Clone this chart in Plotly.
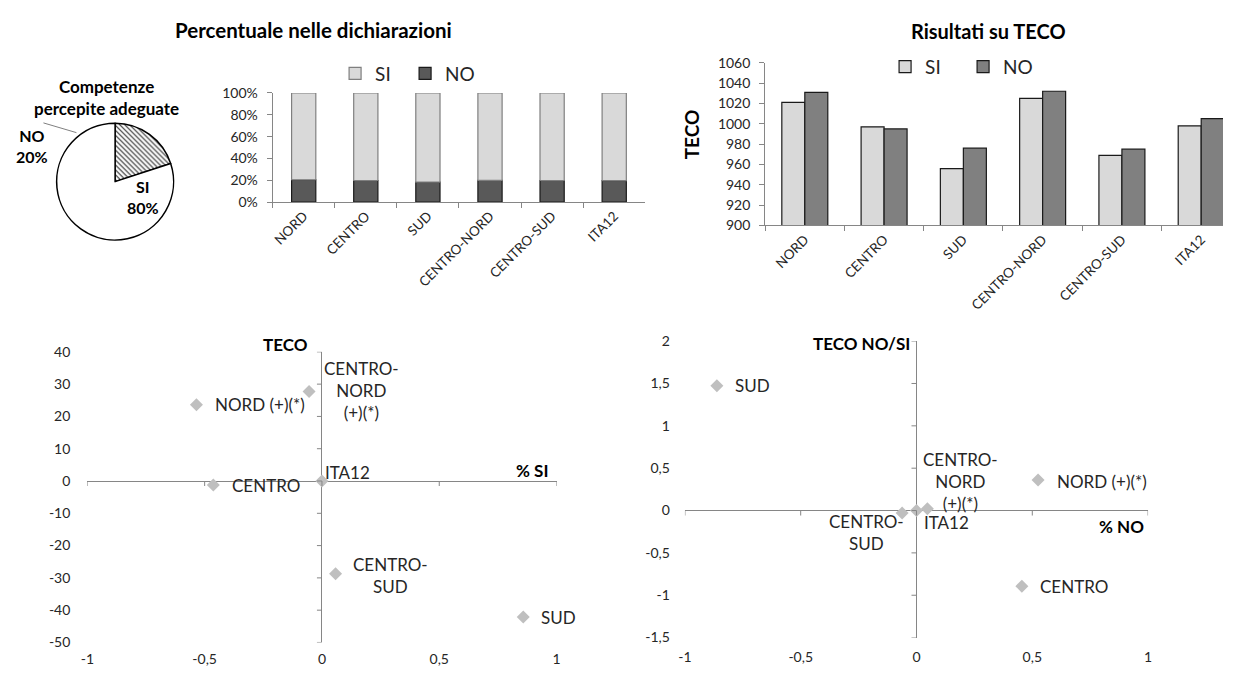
import plotly.graph_objects as go

# page is 1235x676; the browser's default 8px body margin offsets the figure
PAGE_W, PAGE_H = 1235, 676
OFF = 8
W, H = PAGE_W - 2 * OFF, PAGE_H - 2 * OFF

# ---------------- data ----------------
regions = ["NORD", "CENTRO", "SUD", "CENTRO-NORD", "CENTRO-SUD", "ITA12"]

pie_labels = ["NO", "SI"]
pie_values = [20, 80]

decl_no = [20.5, 19.8, 18.4, 19.9, 19.8, 19.7]          # % NO in the declarations
decl_si = [round(100 - v, 1) for v in decl_no]          # % SI (complement)

teco_si = [1021, 997, 956, 1025, 969, 998]
teco_no = [1031, 995, 976, 1032, 975, 1005]

sc1_names = ["NORD", "CENTRO-NORD", "CENTRO", "ITA12", "CENTRO-SUD", "SUD"]
sc1_labels = ["NORD (+)(*)", "CENTRO-<br>NORD<br>(+)(*)", "CENTRO", "ITA12", "CENTRO-<br>SUD", "SUD"]
sc1_x = [-0.535, -0.055, -0.463, 0.0, 0.058, 0.858]
sc1_y = [23.6, 27.7, -1.2, 0.0, -28.7, -42.1]

sc2_names = ["SUD", "NORD", "CENTRO", "CENTRO-SUD", "ITA12", "CENTRO-NORD"]
sc2_labels = ["SUD", "NORD (+)(*)", "CENTRO", "CENTRO-<br>SUD", "ITA12", "CENTRO-<br>NORD<br>(+)(*)"]
sc2_x = [-0.862, 0.525, 0.455, -0.062, 0.0, 0.047]
sc2_y = [1.472, 0.36, -0.893, -0.03, 0.0, 0.02]

sc1_xticks = [-1, -0.5, 0, 0.5, 1]
sc1_yticks = [40, 30, 20, 10, 0, -10, -20, -30, -40, -50]
sc2_xticks = [-1, -0.5, 0, 0.5, 1]
sc2_yticks = [2, 1.5, 1, 0.5, 0, -0.5, -1, -1.5]

# ---------------- styling helpers ----------------
FONT = "Lato, 'Open Sans', sans-serif"
TXT = "#262626"
AX = "#868686"


def px(x):
    return (x - OFF) / W


def py(y):
    return 1 - (y - OFF) / H


def dx(a, b):
    return [max(0.0, px(a)), min(1.0, px(b))]


def dy(top, bottom):
    return [max(0.0, py(bottom)), min(1.0, py(top))]


def it_num(v):
    """Italian-style tick text: comma decimals, plain hyphen minus."""
    s = f"{v:g}"
    return s.replace(".", ",")


fig = go.Figure()

# ---------------- pie ----------------
fig.add_trace(go.Pie(
    labels=pie_labels, values=pie_values, sort=False, direction="counterclockwise",
    rotation=0, textinfo="none", hoverinfo="label+percent", showlegend=False,
    domain=dict(x=dx(49, 169), y=dy(117, 237)),
    marker=dict(colors=["white", "white"],
                line=dict(color="black", width=1.5),
                pattern=dict(shape=["\\", ""], fgcolor="#222222", bgcolor="white",
                             size=3.5, solidity=0.3)),
))

# ---------------- stacked 100% bar ----------------
bw1 = 0.39
fig.add_trace(go.Bar(
    x=regions, y=decl_no, name="NO", xaxis="x", yaxis="y", legend="legend",
    width=bw1, offset=-bw1 / 2, legendrank=2,
    marker=dict(color="#595959", line=dict(color="#1a1a1a", width=1.2)),
))
fig.add_trace(go.Bar(
    x=regions, y=decl_si, base=decl_no, name="SI", xaxis="x", yaxis="y", legend="legend",
    width=bw1, offset=-bw1 / 2, legendrank=1,
    marker=dict(color="#d9d9d9", line=dict(color="#7f7f7f", width=1.2)),
))

# ---------------- TECO grouped bar ----------------
bw2 = 0.29
fig.add_trace(go.Bar(
    x=regions, y=[v - 900 for v in teco_si], base=900, name="SI", xaxis="x2", yaxis="y2",
    legend="legend2", width=bw2, offset=-bw2, legendrank=1,
    customdata=teco_si, hovertemplate="%{x}: %{customdata}<extra>SI</extra>",
    marker=dict(color="#d9d9d9", line=dict(color="#1a1a1a", width=1.2)),
))
fig.add_trace(go.Bar(
    x=regions, y=[v - 900 for v in teco_no], base=900, name="NO", xaxis="x2", yaxis="y2",
    legend="legend2", width=bw2, offset=0, legendrank=2,
    customdata=teco_no, hovertemplate="%{x}: %{customdata}<extra>NO</extra>",
    marker=dict(color="#808080", line=dict(color="#1a1a1a", width=1.2)),
))

# ---------------- scatter plots ----------------
fig.add_trace(go.Scatter(
    x=sc1_x, y=sc1_y, mode="markers", xaxis="x3", yaxis="y3", showlegend=False,
    text=sc1_names, hoverinfo="text",
    marker=dict(symbol="diamond", size=10, color="#bfbfbf"),
))
fig.add_trace(go.Scatter(
    x=sc2_x, y=sc2_y, mode="markers", xaxis="x4", yaxis="y4", showlegend=False,
    text=sc2_names, hoverinfo="text",
    marker=dict(symbol="diamond", size=10, color="#bfbfbf"),
))

tickfont = dict(family=FONT, size=14, color=TXT)

bar_x_common = dict(type="category", categoryorder="array", categoryarray=regions,
                    tickson="boundaries", ticks="outside", ticklen=5, tickcolor=AX,
                    showline=True, linecolor=AX, linewidth=1, tickangle=-45,
                    tickfont=dict(family=FONT, size=13.5, color=TXT),
                    showgrid=False, zeroline=False, fixedrange=True)

scat_common = dict(showgrid=False, showline=False, zeroline=True, zerolinecolor=AX,
                   zerolinewidth=1, tickfont=tickfont, tickmode="array")

fig.update_layout(
    width=W, height=H, margin=dict(l=0, r=0, t=0, b=0),
    paper_bgcolor="white", plot_bgcolor="white",
    separators=", ", barmode="overlay",
    font=dict(family=FONT, color=TXT),
    xaxis=dict(domain=dx(268, 644), range=[-0.5, 5.5], anchor="y", **bar_x_common),
    yaxis=dict(domain=dy(86, 198), range=[0, 100], dtick=20, ticksuffix="%",
               ticks="outside", ticklen=5, tickcolor=AX, showline=True, linecolor=AX,
               showgrid=False, zeroline=False, tickfont=tickfont, anchor="x",
               ticklabelstandoff=6),
    # TECO chart: axis runs slightly past the right page edge (category range trimmed)
    xaxis2=dict(domain=dx(765, 1227), range=[-0.5, 5.275], anchor="y2", **bar_x_common),
    yaxis2=dict(domain=dy(55, 222), range=[900, 1060], dtick=20,
                ticks="outside", ticklen=5, tickcolor=AX, showline=True, linecolor=AX,
                showgrid=False, zeroline=False, tickfont=tickfont, anchor="x2",
                ticklabelstandoff=6),
    xaxis3=dict(domain=dx(81, 554.5), range=[-1, 1], anchor="y3",
                tickvals=sc1_xticks, ticktext=[it_num(v) for v in sc1_xticks],
                ticklabelstandoff=7, **scat_common),
    yaxis3=dict(domain=dy(351.7, 650), range=[-50, 40], anchor="x3",
                tickvals=sc1_yticks, ticktext=[it_num(v) for v in sc1_yticks],
                ticklabelstandoff=16, **scat_common),
    xaxis4=dict(domain=dx(684, 1151.4), range=[-1, 1], anchor="y4",
                tickvals=sc2_xticks, ticktext=[it_num(v) for v in sc2_xticks],
                ticklabelstandoff=9, **scat_common),
    yaxis4=dict(domain=dy(340.7, 645), range=[-1.5, 2], anchor="x4",
                tickvals=sc2_yticks, ticktext=[it_num(v) for v in sc2_yticks],
                ticklabelstandoff=14, **scat_common),
    legend=dict(orientation="h", x=px(331), y=py(66), xanchor="left", yanchor="middle",
                font=dict(family=FONT, size=19, color=TXT), bgcolor="rgba(0,0,0,0)",
                entrywidth=25, entrywidthmode="pixels", traceorder="normal"),
    legend2=dict(orientation="h", x=px(886), y=py(59), xanchor="left", yanchor="middle",
                 font=dict(family=FONT, size=19, color=TXT), bgcolor="rgba(0,0,0,0)",
                 entrywidth=33, entrywidthmode="pixels", traceorder="normal"),
)

# ---------------- tick marks on the crossing axes ----------------
shapes = []
for v in sc1_xticks:
    shapes.append(dict(type="line", xref="x3", yref="y3", x0=v, x1=v, ysizemode="pixel",
                       yanchor=0, y0=0, y1=-5, line=dict(color=AX, width=1)))
for v in sc1_yticks:
    shapes.append(dict(type="line", xref="x3", yref="y3", y0=v, y1=v, xsizemode="pixel",
                       xanchor=0, x0=0, x1=-5, line=dict(color=AX, width=1)))
for v in sc2_xticks:
    shapes.append(dict(type="line", xref="x4", yref="y4", x0=v, x1=v, ysizemode="pixel",
                       yanchor=0, y0=0, y1=-5, line=dict(color=AX, width=1)))
for v in sc2_yticks:
    shapes.append(dict(type="line", xref="x4", yref="y4", y0=v, y1=v, xsizemode="pixel",
                       xanchor=0, x0=0, x1=-5, line=dict(color=AX, width=1)))
# pie leader line
shapes.append(dict(type="line", xref="paper", yref="paper", x0=px(36.7), y0=py(116.7),
                   x1=px(70), y1=py(126.7), line=dict(color="#808080", width=1)))
fig.update_layout(shapes=shapes)

# ---------------- annotations ----------------
ann = []


def text_ann(x, y, text, size, xanchor="center", yanchor="middle", angle=0, b=False):
    ann.append(dict(xref="paper", yref="paper", x=px(x), y=py(y),
                    text=f"<b>{text}</b>" if b else text,
                    showarrow=False, xanchor=xanchor, yanchor=yanchor, textangle=angle,
                    font=dict(family=FONT, size=size, color="#000000" if b else TXT)))


text_ann(309, 21, "Percentuale nelle dichiarazioni", 20.5, b=True)
text_ann(990, 22, "Risultati su TECO", 20, b=True)
text_ann(100, 91, "Competenze<br>percepite adeguate", 17, b=True)
text_ann(690.6, 128, "TECO", 19, angle=-90, b=True)
text_ann(306, 344, "TECO", 17, xanchor="right", b=True)
text_ann(530, 474, "% SI", 17, b=True)
text_ann(913, 343, "TECO NO/SI", 17, xanchor="right", b=True)
text_ann(1124.5, 531, "% NO", 17, b=True)

# pie labels from the data
pie_pos = {"NO": (25, 140), "SI": (137, 193)}
for lab, val in zip(pie_labels, pie_values):
    text_ann(pie_pos[lab][0], pie_pos[lab][1], f"{lab}<br>{val}%", 16, b=True)

# point labels (placement per label)
sc1_place = {
    "NORD": ("left", "middle", 17, 0),
    "CENTRO-NORD": ("left", "middle", 13, 1),
    "CENTRO": ("left", "middle", 17, -1),
    "ITA12": ("left", "middle", 1, 9),
    "CENTRO-SUD": ("left", "middle", 15, -2),
    "SUD": ("left", "middle", 16, -1),
}
sc2_place = {
    "SUD": ("left", "middle", 16, 0),
    "NORD": ("left", "middle", 17, -1),
    "CENTRO": ("left", "middle", 16, 0),
    "CENTRO-SUD": ("center", "middle", -36, -19),
    "ITA12": ("left", "middle", 6, -12),
    "CENTRO-NORD": ("center", "middle", 33, 27),
}
lblfont = dict(family=FONT, size=17, color=TXT)
for name, lab, x, y in zip(sc1_names, sc1_labels, sc1_x, sc1_y):
    xa, ya, xs, ys = sc1_place[name]
    ann.append(dict(xref="x3", yref="y3", x=x, y=y, text=lab, showarrow=False,
                    xanchor=xa, yanchor=ya, xshift=xs, yshift=ys, align="center",
                    font=lblfont))
for name, lab, x, y in zip(sc2_names, sc2_labels, sc2_x, sc2_y):
    xa, ya, xs, ys = sc2_place[name]
    ann.append(dict(xref="x4", yref="y4", x=x, y=y, text=lab, showarrow=False,
                    xanchor=xa, yanchor=ya, xshift=xs, yshift=ys, align="center",
                    font=lblfont))

fig.update_layout(annotations=ann)

fig.write_html("out.html")
